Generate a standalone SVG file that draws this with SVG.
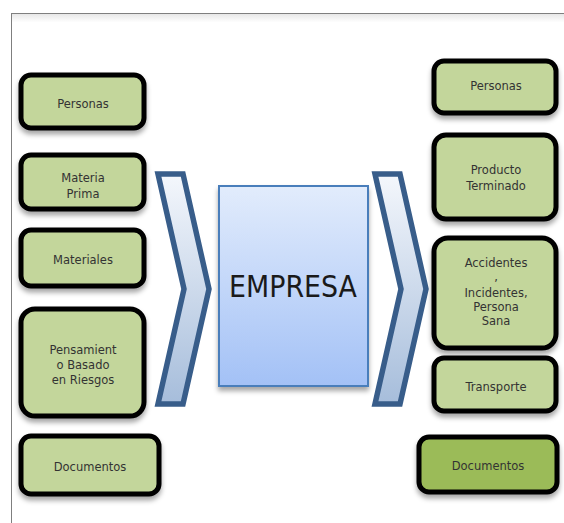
<svg xmlns="http://www.w3.org/2000/svg" width="564" height="523" viewBox="0 0 564 523">
  <defs>
    <filter id="sh" x="-20%" y="-20%" width="140%" height="150%">
      <feDropShadow dx="0" dy="4" stdDeviation="2.5" flood-color="#000" flood-opacity="0.35"/>
    </filter>
    <linearGradient id="chev" x1="0" y1="0" x2="0" y2="1">
      <stop offset="0" stop-color="#F4F7FC"/>
      <stop offset="1" stop-color="#A6BDDB"/>
    </linearGradient>
    <linearGradient id="emp" x1="0" y1="0" x2="0" y2="1">
      <stop offset="0" stop-color="#E2ECFC"/>
      <stop offset="1" stop-color="#A3C1F6"/>
    </linearGradient>
    <linearGradient id="topshade" x1="0" y1="0" x2="0" y2="1">
      <stop offset="0" stop-color="#E6E6E6"/>
      <stop offset="1" stop-color="#FFFFFF"/>
    </linearGradient>
  </defs>
  <style>
    .box { fill: #C3D69B; stroke: #000; stroke-width: 5; filter: url(#sh); }
    .dark { fill: #9BBB59; }
    .lbl { font-family: "DejaVu Sans", "Liberation Sans", sans-serif; font-size: 11.5px; fill: #333; text-anchor: middle; }
    .chev { fill: url(#chev); stroke: #385D8A; stroke-width: 5.5; stroke-linejoin: miter; }
  </style>
  <rect x="0" y="0" width="564" height="523" fill="#fff"/>
  <g id="frame">
    <rect x="12" y="13.5" width="552" height="9" fill="url(#topshade)"/>
    <line x1="11.5" y1="13" x2="11.5" y2="523" stroke="#7F7F7F" stroke-width="1"/>
    <line x1="11" y1="13.5" x2="564" y2="13.5" stroke="#7F7F7F" stroke-width="1"/>
  </g>
  <g id="connectors">
    <polygon class="chev" points="158,174 183,174 209,289 183,404 158,404 184,289"/>
    <polygon class="chev" points="375,174 400,174 426,289 400,404 375,404 401,289"/>
  </g>
  <g id="empresa">
    <rect x="219" y="186" width="149" height="200" fill="url(#emp)" stroke="#4A7EBB" stroke-width="2" filter="url(#sh)"/>
    <text x="293" y="297" font-family="DejaVu Sans, Liberation Sans, sans-serif" font-size="30" fill="#1a1a1a" text-anchor="middle" textLength="128" lengthAdjust="spacingAndGlyphs">EMPRESA</text>
  </g>
  <g id="in-personas">
    <rect class="box" x="21" y="75" width="123" height="53" rx="10"/>
    <text class="lbl" x="83" y="108">Personas</text>
  </g>
  <g id="in-materia">
    <rect class="box" x="21" y="155" width="123" height="54" rx="10"/>
    <text class="lbl" x="83" y="182">Materia</text>
    <text class="lbl" x="83" y="197.5">Prima</text>
  </g>
  <g id="in-materiales">
    <rect class="box" x="21" y="230" width="123" height="56" rx="10"/>
    <text class="lbl" x="83" y="264">Materiales</text>
  </g>
  <g id="in-pensamiento">
    <rect class="box" x="21" y="309" width="123" height="107" rx="14"/>
    <text class="lbl" x="83" y="353.5">Pensamient</text>
    <text class="lbl" x="83" y="368.5">o Basado</text>
    <text class="lbl" x="83" y="383.5">en Riesgos</text>
  </g>
  <g id="in-documentos">
    <rect class="box" x="21" y="436" width="138" height="58" rx="10"/>
    <text class="lbl" x="90" y="471">Documentos</text>
  </g>
  <g id="out-personas">
    <rect class="box" x="434" y="61" width="122" height="52" rx="10"/>
    <text class="lbl" x="496" y="90">Personas</text>
  </g>
  <g id="out-producto">
    <rect class="box" x="434" y="135" width="122" height="84" rx="12"/>
    <text class="lbl" x="496" y="174">Producto</text>
    <text class="lbl" x="496" y="190">Terminado</text>
  </g>
  <g id="out-accidentes">
    <rect class="box" x="434" y="238" width="122" height="110" rx="14"/>
    <text class="lbl" x="496" y="267">Accidentes</text>
    <text class="lbl" x="496" y="281">,</text>
    <text class="lbl" x="496" y="297">Incidentes,</text>
    <text class="lbl" x="496" y="311">Persona</text>
    <text class="lbl" x="496" y="325">Sana</text>
  </g>
  <g id="out-transporte">
    <rect class="box" x="434" y="358" width="122" height="53" rx="10"/>
    <text class="lbl" x="496" y="391">Transporte</text>
  </g>
  <g id="out-documentos">
    <rect class="box dark" x="419" y="437" width="138" height="55" rx="10"/>
    <text class="lbl" x="488" y="470">Documentos</text>
  </g>
</svg>
